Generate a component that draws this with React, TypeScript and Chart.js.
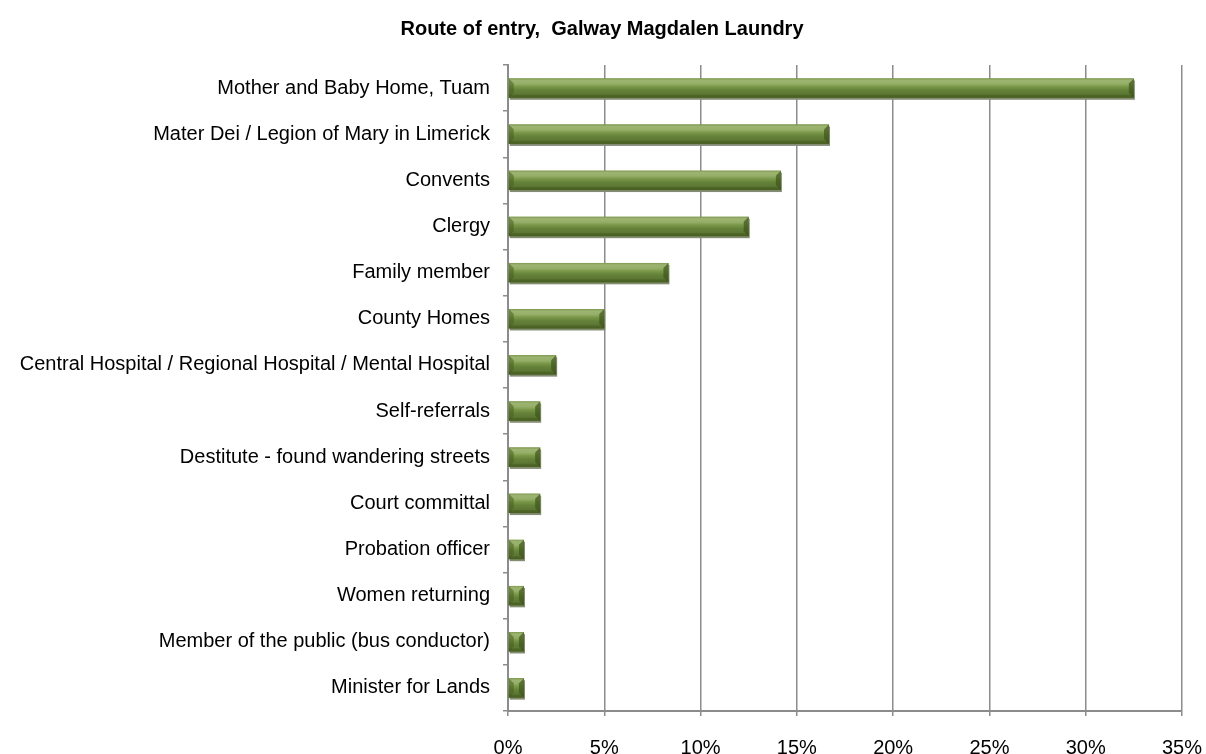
import React, { useEffect, useRef } from "react";
import { Chart, registerables } from "chart.js";

Chart.register(...registerables);

const title = "Route of entry,  Galway Magdalen Laundry";
const categories = [
  "Mother and Baby Home, Tuam",
  "Mater Dei / Legion of Mary in Limerick",
  "Convents",
  "Clergy",
  "Family member",
  "County Homes",
  "Central Hospital / Regional Hospital / Mental Hospital",
  "Self-referrals",
  "Destitute - found wandering streets",
  "Court committal",
  "Probation officer",
  "Women returning",
  "Member of the public (bus conductor)",
  "Minister for Lands",
];
const shares = [32.5, 16.67, 14.17, 12.5, 8.33, 5.0, 2.5, 1.67, 1.67, 1.67, 0.83, 0.83, 0.83, 0.83];
const xTicks = [0, 5, 10, 15, 20, 25, 30, 35];

const FONT = "'Liberation Sans', Arial, sans-serif";

const bevelPlugin = {
  id: "bevel",
  beforeDatasetsDraw(chart: any) {
    const ctx = chart.ctx;
    const meta = chart.getDatasetMeta(0);
    ctx.save();
    meta.data.forEach((bar: any) => {
      const { x, y, base, height } = bar.getProps(["x", "y", "base", "height"], true);
      const top = y - height / 2;
      ctx.fillStyle = "#848c74";
      ctx.fillRect(base + 1, top + 2, x - base, height);
    });
    ctx.restore();
  },
  afterDatasetsDraw(chart: any) {
    const ctx = chart.ctx;
    const meta = chart.getDatasetMeta(0);
    ctx.save();
    meta.data.forEach((bar: any) => {
      const { x, y, base, height } = bar.getProps(["x", "y", "base", "height"], true);
      const top = y - height / 2;
      const bottom = y + height / 2;
      const w = x - base;
      const g = ctx.createLinearGradient(0, top, 0, bottom);
      g.addColorStop(0, "#7f9a50");
      g.addColorStop(0.1, "#9cb470");
      g.addColorStop(0.28, "#95ae68");
      g.addColorStop(0.42, "#7a9848");
      g.addColorStop(0.6, "#65823a");
      g.addColorStop(0.85, "#5a7531");
      g.addColorStop(1, "#4f6628");
      ctx.fillStyle = g;
      ctx.fillRect(base, top, w, height);
      const b = Math.min(5, w / 2, height / 2);
      ctx.fillStyle = "rgba(70,95,30,0.55)";
      ctx.beginPath();
      ctx.moveTo(base, top);
      ctx.lineTo(base + b, top + b);
      ctx.lineTo(base + b, bottom - b);
      ctx.lineTo(base, bottom);
      ctx.closePath();
      ctx.fill();
      ctx.fillStyle = "rgba(60,85,25,0.7)";
      ctx.beginPath();
      ctx.moveTo(x, top);
      ctx.lineTo(x - b, top + b);
      ctx.lineTo(x - b, bottom - b);
      ctx.lineTo(x, bottom);
      ctx.closePath();
      ctx.fill();
      ctx.fillStyle = "rgba(60,80,25,0.35)";
      ctx.fillRect(base, bottom - 3, w, 3);
    });
    ctx.restore();
  },
};

export default function App() {
  const ref = useRef<HTMLCanvasElement>(null);
  useEffect(() => {
    if (!ref.current) return;
    const chart = new Chart(ref.current, {
      type: "bar",
      data: {
        labels: categories,
        datasets: [
          {
            data: shares,
            backgroundColor: "#6b8a3a",
            borderWidth: 0,
            barPercentage: 0.42,
            categoryPercentage: 1,
          },
        ],
      },
      options: {
        indexAxis: "y",
        responsive: false,
        animation: false,
        layout: { padding: { top: 0, right: 2, left: 0, bottom: 0 } },
        plugins: {
          legend: { display: false },
          tooltip: { enabled: false },
          title: {
            display: true,
            text: title,
            color: "#000",
            font: { family: FONT, size: 20, weight: "bold" },
            padding: { top: 17, bottom: 24 },
          },
        },
        scales: {
          x: {
            min: 0,
            max: 35,
            afterBuildTicks: (scale: any) => {
              scale.ticks = xTicks.map((v) => ({ value: v }));
            },
            afterFit: (scale: any) => {
              scale.height = 43;
              scale.paddingLeft = 0;
              scale.paddingRight = 24;
            },
            ticks: {
              color: "#000",
              font: { family: FONT, size: 20 },
              padding: 20,
              callback: (v: any) => v + "%",
              maxRotation: 0,
            },
            grid: {
              color: "#8c8c8c",
              lineWidth: 1.5,
              drawTicks: true,
              tickLength: 5,
            },
            border: { display: true, color: "#8c8c8c", width: 2 },
          },
          y: {
            afterFit: (scale: any) => {
              scale.width = 508;
            },
            ticks: {
              color: "#000",
              font: { family: FONT, size: 20 },
              padding: 13,
              autoSkip: false,
            },
            grid: {
              drawOnChartArea: false,
              drawTicks: true,
              tickLength: 5,
              color: "#8c8c8c",
              lineWidth: 1.5,
              offset: true,
            },
            border: { display: true, color: "#8c8c8c", width: 2 },
          },
        },
      },
      plugins: [bevelPlugin],
    } as any);
    return () => chart.destroy();
  }, []);
  return (
    <div style={{ position: "absolute", left: 0, top: 0, width: 1206, height: 754, background: "#fff" }}>
      <canvas ref={ref} width={1206} height={754} />
    </div>
  );
}
